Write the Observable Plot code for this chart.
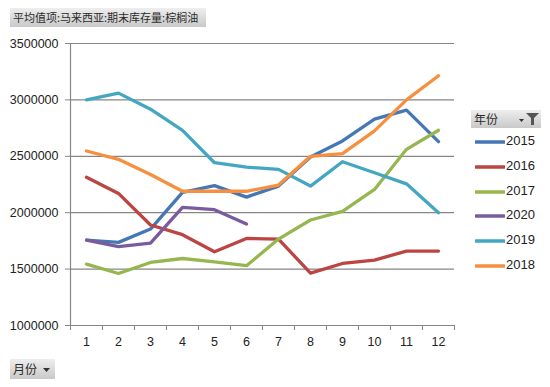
<!DOCTYPE html>
<html><head><meta charset="utf-8">
<script src="https://cdn.jsdelivr.net/npm/d3@7"></script>
<script src="https://cdn.jsdelivr.net/npm/@observablehq/plot@0.6"></script>
<style>
body{margin:0;background:#fff;}
#wrap{position:relative;width:550px;height:387px;overflow:hidden;font-family:"Liberation Sans",Arial,sans-serif;}
#chart{position:absolute;left:0;top:0;}
.btn{position:absolute;background:linear-gradient(#eeeeee,#c9c9c9);font-family:"Noto Sans CJK SC",sans-serif;font-size:12px;color:#2b2b2b;line-height:19px;box-sizing:border-box;padding-left:3px;white-space:nowrap;overflow:hidden;}
.leg{position:absolute;left:475px;height:16px;font-size:13px;color:#222;}
.leg svg{position:absolute;left:0;top:4px;}
.leg span{position:absolute;left:31px;top:-1px;}
</style></head>
<body><div id="wrap"><div id="chart"></div></div>
<script>
const months = [1,2,3,4,5,6,7,8,9,10,11,12];
const years = ["2015","2016","2017","2020","2019","2018"];
const colors = ["#4677B5","#BA4542","#96B750","#7A5C9E","#43A7C2","#F6903F"];
const s2015 = [1757000,1737000,1855000,2180000,2240000,2138000,2236000,2494000,2636000,2829000,2909000,2630000];
const s2016 = [2314000,2171000,1891000,1805000,1654000,1772000,1766000,1464000,1550000,1580000,1660000,1660000];
const s2017 = [1544000,1461000,1559000,1594000,1565000,1530000,1766000,1935000,2012000,2206000,2562000,2731000];
const s2020 = [1757000,1699000,1730000,2047000,2027000,1900000];
const s2019 = [3000000,3060000,2918000,2730000,2443000,2404000,2384000,2236000,2452000,2354000,2256000,2000000];
const s2018 = [2547000,2473000,2338000,2190000,2190000,2190000,2245000,2500000,2523000,2725000,3000000,3214000];
const yTicks = [1000000,1500000,2000000,2500000,3000000,3500000];
const titleText = "平均值项:马来西亚:期末库存量:棕榈油";
const legendTitle = "年份";
const xTitle = "月份";

const series = [s2015,s2016,s2017,s2020,s2019,s2018];
const rows = [];
years.forEach((y,i)=>series[i].forEach((v,j)=>rows.push({year:y,month:months[j],value:v})));
const bounds = d3.range(0.5, 13, 1);

const chart = Plot.plot({
  width:550, height:387,
  marginLeft:70, marginRight:96, marginTop:43, marginBottom:62,
  x:{domain:[0.5,12.5]},
  y:{domain:[1000000,3500000]},
  color:{domain:years, range:colors},
  style:{fontFamily:"'Liberation Sans', Arial, sans-serif", fontSize:"12.5px", color:"#222", background:"transparent"},
  marks:[
    Plot.ruleY(yTicks,{stroke:"#868686",strokeWidth:1.2}),
    Plot.ruleX([0.5],{stroke:"#868686",strokeWidth:1.2}),
    Plot.axisY({ticks:yTicks, tickSize:5, tickPadding:7, tickFormat:d=>String(d), stroke:"#868686", strokeOpacity:1, label:null, fill:"#222"}),
    Plot.axisX({ticks:bounds, tickSize:5, tickFormat:()=>"", stroke:"#868686", strokeOpacity:1, label:null}),
    Plot.axisX({ticks:months, tickSize:0, tickPadding:12, tickFormat:d=>String(d), label:null, fill:"#222"}),
    Plot.line(rows,{x:"month",y:"value",z:"year",stroke:"year",strokeWidth:3.3,strokeLinejoin:"round",strokeLinecap:"round"})
  ]
});
document.getElementById("chart").appendChild(chart);

const wrap = document.getElementById("wrap");
function addBtn(text,left,top,w,h){
  const d=document.createElement("div");d.className="btn";
  d.style.left=left+"px";d.style.top=top+"px";d.style.width=w+"px";d.style.height=h+"px";
  d.textContent=text;wrap.appendChild(d);return d;
}
const tb = addBtn(titleText,10,8,196,19);
tb.style.fontSize="11px";
const lh = addBtn(legendTitle,471,110,70,18);
lh.style.lineHeight="18px";
lh.insertAdjacentHTML("beforeend",'<svg width="24" height="14" style="position:absolute;left:46px;top:2px"><path d="M2,7 L7,7 L4.5,10 Z" fill="#333"/><path d="M9,1 L22,1 L17,6 L17,13 L14,13 L14,6 Z" fill="#555"/></svg>');
const xb = addBtn(xTitle,10,359,45,20);
xb.insertAdjacentHTML("beforeend",'<svg width="10" height="10" style="position:absolute;left:32px;top:6px"><path d="M1,3 L8,3 L4.5,7 Z" fill="#333"/></svg>');

years.forEach((y,i)=>{
  const d=document.createElement("div");d.className="leg";
  d.style.top=(134+i*24.8)+"px";
  d.innerHTML='<svg width="30" height="8"><line x1="1" y1="4" x2="29" y2="4" stroke="'+colors[i]+'" stroke-width="3.5" stroke-linecap="round"/></svg><span>'+y+'</span>';
  wrap.appendChild(d);
});
</script></body></html>
